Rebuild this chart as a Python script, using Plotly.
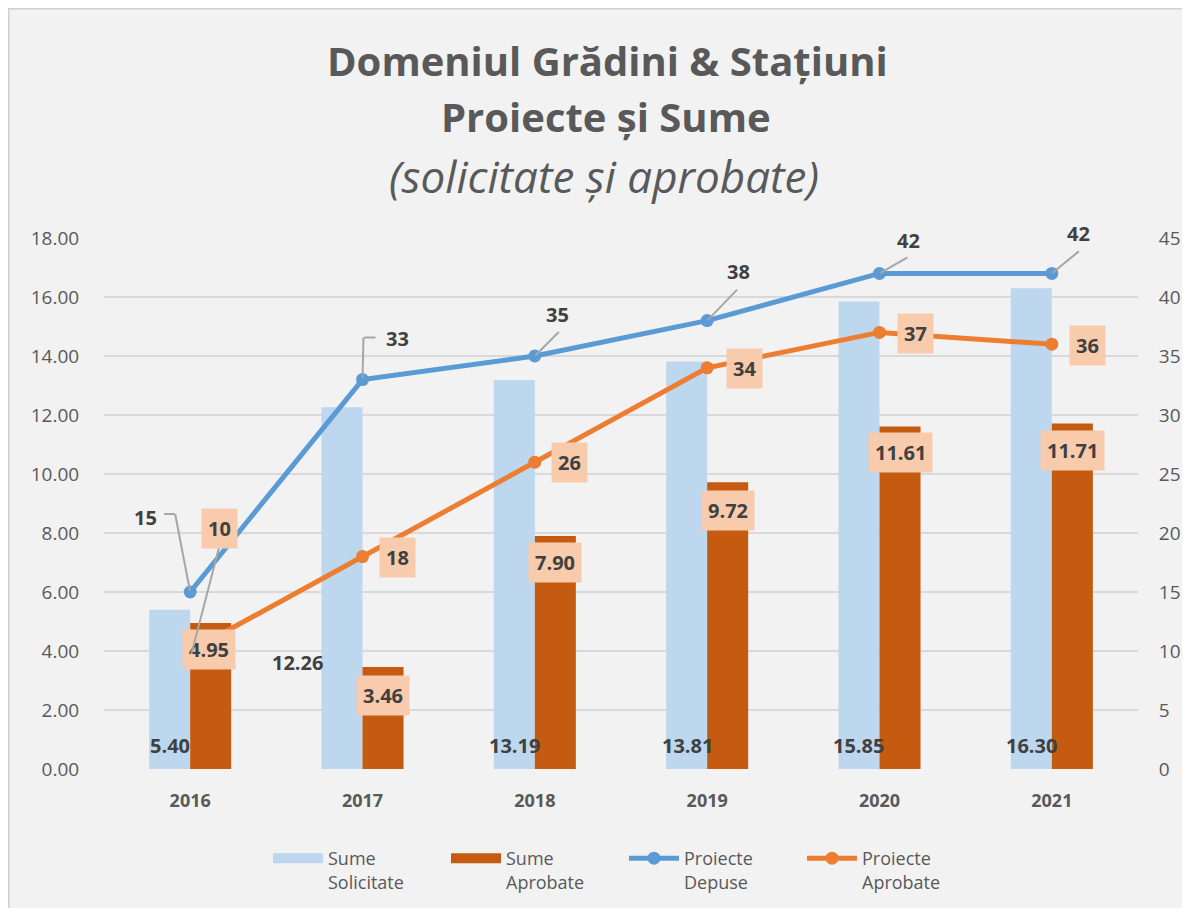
import plotly.graph_objects as go

# ---------------- data ----------------
years = ["2016", "2017", "2018", "2019", "2020", "2021"]
sume_solicitate = [5.40, 12.26, 13.19, 13.81, 15.85, 16.30]
sume_aprobate = [4.95, 3.46, 7.90, 9.72, 11.61, 11.71]
proiecte_depuse = [15, 33, 35, 38, 42, 42]
proiecte_aprobate = [10, 18, 26, 34, 37, 36]

left_ticks = [0, 2, 4, 6, 8, 10, 12, 14, 16, 18]
right_ticks = [0, 5, 10, 15, 20, 25, 30, 35, 40, 45]

# ---------------- label placement (pixel offsets, y up) ----------------
sol_off = [(-20, 24), (-65, 107), (-20, 24), (-20, 24), (-21, 24), (-20, 24)]
apr_off = [(19, -27), (20, -29), (20, -27), (21, -28), (21, -26), (21, -27)]
dep_off = [(-45, 75), (35, 41), (23, 42), (31, 49), (29, 33), (27, 40)]
# leader segments (x0, y0, x1, y1) relative to the data point
dep_lead = [[(0, 0, -15, 78), (-15, 78, -26, 78)],
            [(0, 0, 1, 42), (1, 42, 13, 42)],
            [(0, 0, 24, 24)],
            [(0, 0, 30, 31)],
            [(0, 0, 28, 16)],
            [(0, 0, 27, 22)]]
pa_off = [(29, 123), (35, -1), (35, 0), (37, -1), (36, -1), (36, -1)]
pa_lead = {0: [(1, -4, 29, 104)]}

# ---------------- styles ----------------
FONT = "Open Sans"
TXT = "#595959"
LBL = "#404040"
BOX = "#f8cbad"
LEAD = "#a6a6a6"
C_SOL = "#bdd7ee"
C_APR = "#c55a11"
C_DEP = "#5b9bd5"
C_PA = "#ed7d31"

W, H = 1174, 900
L, R, T, B = 96, 44, 230, 139
PW, PH = W - L - R, H - T - B

fig = go.Figure()
fig.add_trace(go.Bar(x=years, y=sume_solicitate, name="Sume Solicitate", showlegend=False,
                     marker=dict(color=C_SOL, line=dict(width=0)), yaxis="y"))
fig.add_trace(go.Bar(x=years, y=sume_aprobate, name="Sume Aprobate", showlegend=False,
                     marker=dict(color=C_APR, line=dict(width=0)), yaxis="y"))
# legend keys for the bars (wide rectangles, as in the original)
fig.add_trace(go.Scatter(x=[None], y=[None], name="Sume<br>Solicitate", mode="lines",
                         line=dict(color=C_SOL, width=10), legendrank=1, hoverinfo="skip"))
fig.add_trace(go.Scatter(x=[None], y=[None], name="Sume<br>Aprobate", mode="lines",
                         line=dict(color=C_APR, width=10), legendrank=2, hoverinfo="skip"))
fig.add_trace(go.Scatter(x=years, y=proiecte_depuse, name="Proiecte<br>Depuse",
                         mode="lines+markers", yaxis="y2", legendrank=3,
                         line=dict(color=C_DEP, width=5),
                         marker=dict(color=C_DEP, size=13)))
fig.add_trace(go.Scatter(x=years, y=proiecte_aprobate, name="Proiecte<br>Aprobate",
                         mode="lines+markers", yaxis="y2", legendrank=4,
                         line=dict(color=C_PA, width=5),
                         marker=dict(color=C_PA, size=13)))

ann = []
lblfont = dict(family=FONT, size=20, color=LBL, weight="bold")


def leader(ci, v, yref, segs):
    out = []
    for (x0, y0, x1, y1) in segs:
        out.append(dict(x=ci, y=v, xref="x", yref=yref, text=" ",
                        font=dict(size=1), borderpad=0,
                        showarrow=True, arrowhead=0, arrowwidth=2, arrowcolor=LEAD,
                        standoff=0, startstandoff=0,
                        xshift=x1, yshift=y1, ax=x0 - x1, ay=-(y0 - y1)))
    return out


# x positions of annotations use the category index on the category axis
for i, v in enumerate(sume_solicitate):
    dx, dy = sol_off[i]
    ann.append(dict(x=i, y=0, xref="x", yref="y", text=f"{v:.2f}", showarrow=False,
                    xshift=dx, yshift=dy, font=lblfont))
for i, v in enumerate(sume_aprobate):
    dx, dy = apr_off[i]
    ann.append(dict(x=i, y=v, xref="x", yref="y", text=f"{v:.2f}", showarrow=False,
                    xshift=dx, yshift=dy, font=lblfont, bgcolor=BOX, borderpad=6))
for i, v in enumerate(proiecte_depuse):
    dx, dy = dep_off[i]
    ann.extend(leader(i, v, "y2", dep_lead[i]))
    ann.append(dict(x=i, y=v, xref="x", yref="y2", text=f"{v}", showarrow=False,
                    xshift=dx, yshift=dy, font=lblfont))
for i, v in enumerate(proiecte_aprobate):
    dx, dy = pa_off[i]
    if i in pa_lead:
        ann.extend(leader(i, v, "y2", pa_lead[i]))
    ann.append(dict(x=i, y=v, xref="x", yref="y2", text=f"{v}", showarrow=False,
                    xshift=dx, yshift=dy, font=lblfont, bgcolor=BOX, borderpad=6))


# titles
def py(p):  # paper pixel (from top) -> paper fraction
    return (H - B - p) / PH


def px(p):
    return (p - L) / PW


ann.append(dict(x=px(599), y=py(52), xref="paper", yref="paper", showarrow=False,
                text="Domeniul Grădini & Stațiuni", yanchor="middle",
                font=dict(family=FONT, size=40, color=TXT, weight="bold")))
ann.append(dict(x=px(598), y=py(108), xref="paper", yref="paper", showarrow=False,
                text="Proiecte și Sume", yanchor="middle",
                font=dict(family=FONT, size=40, color=TXT, weight="bold")))
ann.append(dict(x=px(596), y=py(168), xref="paper", yref="paper", showarrow=False,
                text="(solicitate și aprobate)", yanchor="middle",
                font=dict(family=FONT, size=44, color=TXT, style="italic")))

shapes = [dict(type="path", xref="paper", yref="paper",
               path=f"M{px(0.5)},{py(H)} L{px(0.5)},{py(0.5)} L{px(W)},{py(0.5)}",
               line=dict(color="#d0d0d0", width=2), layer="below")]

fig.update_layout(
    width=W, height=H,
    margin=dict(l=L, r=R, t=T, b=B, pad=0, autoexpand=False),
    paper_bgcolor="#f2f2f2", plot_bgcolor="#f2f2f2",
    font=dict(family=FONT, color=TXT),
    barmode="group", bargap=0.524, bargroupgap=0,
    showlegend=True,
    legend=dict(orientation="h", x=px(616), xanchor="center", y=py(832), yanchor="top",
                font=dict(family=FONT, size=18, color=TXT), valign="top",
                itemwidth=50, entrywidth=113, bgcolor="rgba(0,0,0,0)",
                traceorder="normal"),
    xaxis=dict(type="category", range=[-0.5, 5.5], autorange=False,
               showgrid=False, showline=False, zeroline=False,
               ticks="outside", ticklen=15, tickcolor="rgba(0,0,0,0)",
               tickfont=dict(family=FONT, size=18, color=TXT, weight="bold")),
    yaxis=dict(range=[0, 18], tickvals=left_ticks, ticktext=[f"{t:.2f}" for t in left_ticks],
               showgrid=True, gridcolor="#d9d9d9", gridwidth=2, zeroline=False,
               showline=False, ticks="outside", ticklen=20, tickcolor="rgba(0,0,0,0)",
               tickfont=dict(family=FONT, size=19, color=TXT)),
    yaxis2=dict(range=[0, 45], tickvals=right_ticks, overlaying="y", side="right",
                showgrid=False, zeroline=False, showline=False,
                ticks="outside", ticklen=16, tickcolor="rgba(0,0,0,0)",
                tickfont=dict(family=FONT, size=19, color=TXT)),
    annotations=ann, shapes=shapes,
)

fig.write_html("out.html")
